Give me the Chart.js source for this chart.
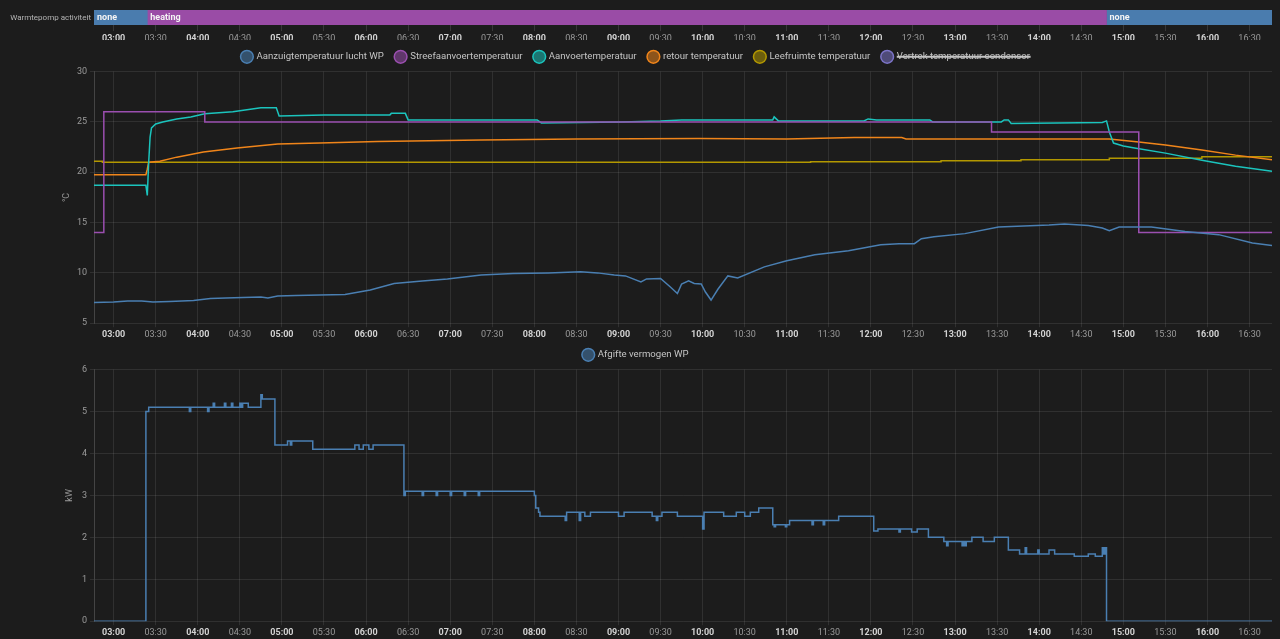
<!DOCTYPE html>
<html>
<head>
<meta charset="utf-8">
<title>Warmtepomp</title>
<script src="https://cdn.jsdelivr.net/npm/chart.js@4.4.0/dist/chart.umd.min.js"></script>
<style>
  html, body { margin: 0; padding: 0; background: #1c1c1c; width: 1280px; height: 639px; overflow: hidden; }
  .box { position: absolute; left: 0; width: 1280px; }
  #activityBox { top: 0; height: 40px; }
  #tempBox { top: 40px; height: 302px; }
  #powerBox { top: 338px; height: 302px; }
</style>
</head>
<body>
<div class="box" id="activityBox"><canvas id="activityChart"></canvas></div>
<div class="box" id="tempBox"><canvas id="tempChart"></canvas></div>
<div class="box" id="powerBox"><canvas id="powerChart"></canvas></div>
<script>
// x-as: tijd van de dag
var xStart = '02:46';
var xEnd = '16:46';
var tickLabels = ['03:00', '03:30', '04:00', '04:30', '05:00', '05:30', '06:00', '06:30', '07:00', '07:30',
    '08:00', '08:30', '09:00', '09:30', '10:00', '10:30', '11:00', '11:30', '12:00', '12:30',
    '13:00', '13:30', '14:00', '14:30', '15:00', '15:30', '16:00', '16:30'];

// Warmtepomp activiteit
var activityStates = ['none', 'heating', 'none'];
var activityFrom = ['02:46', '03:24', '14:48'];
var activityTo = ['03:24', '14:48', '16:46'];

// temperaturen (°C)
var aanzuigData = [['02:46', 7.05], ['03:00', 7.1], ['03:10', 7.2], ['03:20', 7.2], ['03:28', 7.1], ['03:40', 7.15],
    ['03:57', 7.25], ['04:09', 7.45], ['04:20', 7.5], ['04:32', 7.55], ['04:45', 7.6], ['04:50', 7.5], ['04:57', 7.7],
    ['05:10', 7.75], ['05:27', 7.8], ['05:45', 7.85], ['06:03', 8.3], ['06:20', 8.95], ['06:40', 9.2], ['06:58', 9.4],
    ['07:22', 9.8], ['07:45', 9.95], ['08:10', 10.0], ['08:33', 10.1], ['08:45', 10.0], ['08:57', 9.8], ['09:05', 9.7],
    ['09:16', 9.1], ['09:20', 9.4], ['09:30', 9.45], ['09:37', 8.6], ['09:42', 7.95], ['09:45', 8.9], ['09:50', 9.2],
    ['09:54', 8.95], ['09:59', 8.9], ['10:02', 8.1], ['10:06', 7.3], ['10:11', 8.4], ['10:18', 9.7], ['10:25', 9.5],
    ['10:44', 10.6], ['11:00', 11.2], ['11:20', 11.8], ['11:44', 12.2], ['12:07', 12.8], ['12:20', 12.9], ['12:31', 12.9],
    ['12:36', 13.4], ['12:45', 13.6], ['13:07', 13.9], ['13:31', 14.55], ['14:07', 14.75], ['14:18', 14.85], ['14:35', 14.7],
    ['14:45', 14.45], ['14:50', 14.2], ['14:57', 14.55], ['15:20', 14.55], ['15:44', 14.1], ['16:08', 13.8],
    ['16:32', 12.96], ['16:46', 12.73]];
var streefData = [['02:46', 14], ['02:53', 26], ['04:05', 25], ['13:26', 24], ['15:11', 14], ['16:46', 14]];
var aanvoerData = [['02:46', 18.7], ['03:23', 18.7], ['03:24', 17.7], ['03:25', 21.0], ['03:26', 23.5], ['03:27', 24.4],
    ['03:30', 24.8], ['03:35', 25.0], ['03:45', 25.3], ['03:55', 25.5], ['04:05', 25.8], ['04:15', 25.9], ['04:25', 26.0],
    ['04:30', 26.1], ['04:40', 26.3], ['04:45', 26.4], ['04:56', 26.4], ['04:58', 25.6], ['05:30', 25.7], ['06:17', 25.7],
    ['06:18', 25.85], ['06:28', 25.85], ['06:30', 25.2], ['08:02', 25.2], ['08:05', 24.9], ['09:02', 25.0], ['09:30', 25.1],
    ['09:45', 25.2], ['10:50', 25.2], ['10:51', 25.5], ['10:54', 25.1], ['11:55', 25.1], ['11:58', 25.3], ['12:04', 25.2],
    ['12:42', 25.2], ['12:44', 25.0], ['13:33', 25.0], ['13:35', 25.2], ['13:38', 25.2], ['13:40', 24.85], ['14:45', 24.95],
    ['14:48', 25.1], ['14:50', 24.0], ['14:53', 22.9], ['15:00', 22.6], ['15:08', 22.4], ['15:30', 21.9], ['15:56', 21.2],
    ['16:20', 20.6], ['16:46', 20.1]];
var retourData = [['02:46', 19.75], ['03:23', 19.75], ['03:24', 20.3], ['03:25', 21.0], ['03:33', 21.1], ['03:45', 21.5],
    ['04:04', 22.0], ['04:28', 22.4], ['04:57', 22.8], ['05:27', 22.9], ['06:08', 23.05], ['07:22', 23.2], ['08:30', 23.3],
    ['09:57', 23.35], ['11:00', 23.3], ['11:48', 23.45], ['12:22', 23.45], ['12:25', 23.3], ['14:50', 23.3], ['15:11', 23.0],
    ['15:30', 22.7], ['15:56', 22.2], ['16:20', 21.7], ['16:46', 21.25]];
var leefruimteData = [['02:46', 21.1], ['02:52', 21.0], ['11:17', 21.05], ['12:50', 21.15], ['13:47', 21.25],
    ['14:50', 21.4], ['15:56', 21.55], ['16:46', 21.55]];
var vertrekData = [];

// afgifte vermogen (kW)
var vermogenData = [['02:46', 0], ['03:23', 5.0], ['03:25', 5.1], ['03:54', 5.0], ['03:55', 5.1], ['04:07', 5.0],
    ['04:08', 5.1], ['04:11', 5.2], ['04:12', 5.1], ['04:19', 5.2], ['04:20', 5.1], ['04:24', 5.2], ['04:25', 5.1],
    ['04:30', 5.2], ['04:31', 5.1], ['04:32', 5.2], ['04:36', 5.1], ['04:45', 5.4], ['04:46', 5.3], ['04:55', 4.2],
    ['05:04', 4.3], ['05:06', 4.2], ['05:07', 4.3], ['05:22', 4.1], ['05:52', 4.2], ['05:55', 4.1], ['05:58', 4.2],
    ['06:02', 4.1], ['06:05', 4.2], ['06:27', 3.0], ['06:28', 3.1], ['06:40', 3.0], ['06:41', 3.1], ['06:50', 3.0],
    ['06:51', 3.1], ['07:00', 3.0], ['07:01', 3.1], ['07:10', 3.0], ['07:11', 3.1], ['07:20', 3.0], ['07:21', 3.1],
    ['08:00', 3.0], ['08:01', 2.7], ['08:03', 2.6], ['08:04', 2.5], ['08:22', 2.4], ['08:23', 2.6], ['08:32', 2.4],
    ['08:33', 2.6], ['08:36', 2.5], ['08:40', 2.6], ['09:00', 2.5], ['09:04', 2.6], ['09:24', 2.5], ['09:27', 2.4],
    ['09:28', 2.5], ['09:31', 2.6], ['09:42', 2.5], ['10:00', 2.2], ['10:01', 2.6], ['10:15', 2.5], ['10:24', 2.6],
    ['10:30', 2.5], ['10:34', 2.6], ['10:40', 2.7], ['10:50', 2.3], ['10:51', 2.25], ['10:52', 2.3], ['10:59', 2.25],
    ['11:00', 2.3], ['11:02', 2.4], ['11:18', 2.3], ['11:19', 2.4], ['11:26', 2.3], ['11:27', 2.4], ['11:37', 2.5],
    ['12:02', 2.15], ['12:05', 2.2], ['12:20', 2.13], ['12:21', 2.2], ['12:29', 2.13], ['12:33', 2.2], ['12:41', 2.0],
    ['12:52', 1.9], ['12:54', 1.8], ['12:55', 1.9], ['13:05', 1.8], ['13:06', 1.9], ['13:07', 1.8], ['13:08', 1.9],
    ['13:12', 2.0], ['13:20', 1.9], ['13:28', 2.0], ['13:38', 1.7], ['13:46', 1.6], ['13:50', 1.75], ['13:51', 1.6],
    ['13:59', 1.7], ['14:00', 1.6], ['14:07', 1.7], ['14:11', 1.6], ['14:25', 1.55], ['14:35', 1.6], ['14:40', 1.55],
    ['14:45', 1.75], ['14:46', 1.6], ['14:47', 1.75], ['14:48', 0], ['16:46', 0]];

var gridColor = 'rgba(255,255,255,0.09)';
Chart.defaults.font.family = 'Roboto, sans-serif';
Chart.defaults.color = '#a0a0a0';

function toMin(s) {
    var p = s.split(':');
    return Number(p[0]) * 60 + Number(p[1]);
}
function fmt(v) {
    var h = Math.floor(v / 60), m = v % 60;
    return String(h).padStart(2, '0') + ':' + String(m).padStart(2, '0');
}
function points(list) {
    return list.map(function(p) { return {x: toMin(p[0]), y: p[1]}; });
}
function isHour(c) {
    return c.tick && c.tick.value % 60 === 0;
}
function timeAxis(grid, tickPadding) {
    return {
        type: 'linear',
        min: toMin(xStart),
        max: toMin(xEnd),
        afterBuildTicks: function(scale) {
            scale.ticks = tickLabels.map(function(l) { return {value: toMin(l)}; });
        },
        ticks: {
            autoSkip: false,
            maxRotation: 0,
            padding: tickPadding,
            callback: function(v) { return fmt(v); },
            font: function(c) { return {size: 9, weight: isHour(c) ? 'bold' : 'normal'}; },
            color: function(c) { return isHour(c) ? '#d2d2d2' : '#9a9a9a'; }
        },
        grid: grid,
        border: {display: false}
    };
}
function lineSet(label, data, color, extra) {
    return Object.assign({
        label: label,
        data: points(data),
        borderColor: color,
        backgroundColor: color + '88',
        borderWidth: 1.5,
        pointRadius: 0,
        tension: 0
    }, extra || {});
}
var legendOpts = {
    labels: {
        usePointStyle: true,
        pointStyle: 'circle',
        boxHeight: 9,
        color: '#c4c4c4',
        font: {size: 9.6},
        padding: 12
    }
};

// balk met de activiteit
var barLabels = {
    id: 'barLabels',
    afterDatasetsDraw: function(chart) {
        var ctx = chart.ctx;
        ctx.save();
        ctx.font = 'bold 9px Roboto, sans-serif';
        ctx.fillStyle = '#f4f4f4';
        ctx.textBaseline = 'middle';
        chart.data.datasets.forEach(function(ds, i) {
            chart.getDatasetMeta(i).data.forEach(function(bar) {
                ctx.fillText(ds.label, Math.min(bar.x, bar.base) + 3, bar.y);
            });
        });
        ctx.restore();
    }
};
var stateColors = {none: '#4a7cae', heating: '#9a4ca6'};

new Chart(document.getElementById('activityChart'), {
    type: 'bar',
    data: {
        labels: ['Warmtepomp activiteit'],
        datasets: activityStates.map(function(s, i) {
            return {
                label: s,
                data: [[toMin(activityFrom[i]), toMin(activityTo[i])]],
                backgroundColor: stateColors[s],
                grouped: false,
                barPercentage: 1,
                categoryPercentage: 1
            };
        })
    },
    options: {
        indexAxis: 'y',
        responsive: true,
        maintainAspectRatio: false,
        animation: false,
        layout: {padding: {top: 10, right: 8}},
        plugins: {legend: {display: false}, tooltip: {enabled: false}},
        scales: {
            x: timeAxis({drawOnChartArea: false, color: 'rgba(255,255,255,0.12)', tickLength: 6}, 2),
            y: {
                grid: {display: false, drawTicks: false},
                border: {display: false},
                ticks: {color: '#b4b4b4', font: {size: 8}, padding: 3},
                afterFit: function(s) { s.width = 94; }
            }
        }
    },
    plugins: [barLabels]
});

new Chart(document.getElementById('tempChart'), {
    type: 'line',
    data: {
        datasets: [
            lineSet('Aanzuigtemperatuur lucht WP', aanzuigData, '#4a7fb2'),
            lineSet('Streefaanvoertemperatuur', streefData, '#9b4fb0', {stepped: true}),
            lineSet('Aanvoertemperatuur', aanvoerData, '#1bc4bd'),
            lineSet('retour temperatuur', retourData, '#f0851a'),
            lineSet('Leefruimte temperatuur', leefruimteData, '#b39800', {stepped: true}),
            lineSet('Vertrek temperatuur condensor', vertrekData, '#7c74c8', {hidden: true})
        ]
    },
    options: {
        responsive: true,
        maintainAspectRatio: false,
        animation: false,
        layout: {padding: {right: 8}},
        plugins: {legend: legendOpts, tooltip: {enabled: false}},
        scales: {
            x: timeAxis({color: gridColor, tickLength: 4}, 2),
            y: {
                min: 5,
                max: 30,
                ticks: {stepSize: 5, color: '#9a9a9a', font: {size: 9}, padding: 3},
                grid: {color: gridColor, tickLength: 4},
                border: {color: 'rgba(255,255,255,0.18)'},
                title: {display: true, text: '°C', color: '#9a9a9a', font: {size: 9}, padding: {top: 61, bottom: 0}},
                afterFit: function(s) { s.width = 94; }
            }
        }
    }
});

new Chart(document.getElementById('powerChart'), {
    type: 'line',
    data: {
        datasets: [
            lineSet('Afgifte vermogen WP', vermogenData, '#4a7fb2', {stepped: true})
        ]
    },
    options: {
        responsive: true,
        maintainAspectRatio: false,
        animation: false,
        layout: {padding: {right: 8}},
        plugins: {legend: legendOpts, tooltip: {enabled: false}},
        scales: {
            x: timeAxis({color: gridColor, tickLength: 4}, 2),
            y: {
                min: 0,
                max: 6,
                ticks: {stepSize: 1, color: '#9a9a9a', font: {size: 9}, padding: 3},
                grid: {color: gridColor, tickLength: 4},
                border: {color: 'rgba(255,255,255,0.18)'},
                title: {display: true, text: 'kW', color: '#9a9a9a', font: {size: 9}, padding: {top: 64, bottom: 0}},
                afterFit: function(s) { s.width = 94; }
            }
        }
    }
});
</script>
</body>
</html>
